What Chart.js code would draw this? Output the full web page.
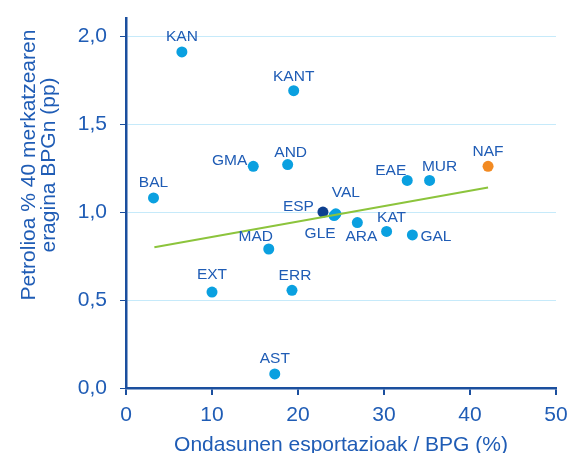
<!DOCTYPE html>
<html>
<head>
<meta charset="utf-8">
<script src="https://cdn.jsdelivr.net/npm/chart.js@4"></script>
<style>
    html, body { margin: 0; padding: 0; background: #ffffff; }
    #wrap { width: 568px; height: 453px; position: relative; }
</style>
</head>
<body>
<div id="wrap"><canvas id="oil-chart"></canvas></div>
<script>
const regionLabels = ['KAN', 'KANT', 'GMA', 'AND', 'BAL', 'EAE', 'MUR', 'NAF', 'ESP', 'VAL', 'GLE', 'ARA', 'KAT', 'GAL', 'MAD', 'EXT', 'ERR', 'AST'];
const exportsShare = [6.5, 19.5, 14.8, 18.8, 3.2, 32.7, 35.3, 42.1, 22.9, 24.4, 24.2, 26.9, 30.3, 33.3, 16.6, 10.0, 19.3, 17.3];
const oilImpact = [1.91, 1.69, 1.26, 1.27, 1.08, 1.18, 1.18, 1.26, 1.00, 0.99, 0.98, 0.94, 0.89, 0.87, 0.79, 0.545, 0.555, 0.08];
const trendX = [3.3, 42.1];
const trendY = [0.80, 1.14];
const xTicks = [0, 10, 20, 30, 40, 50];
const yTicks = [0, 0.5, 1.0, 1.5, 2.0];

const TEXT = '#1f5cb5';
const AXIS = '#1b4f9e';
const FONT = "'Liberation Sans', Arial, sans-serif";

// label placement around each dot: [dx, dy, align]
const labelPlacement = {
    KAN: [0, -15, 'center'], KANT: [0, -14, 'center'], GMA: [-6, -6, 'right'],
    AND: [3, -12, 'center'], BAL: [0, -15, 'center'], EAE: [-1, -10, 'right'],
    MUR: [10, -14, 'center'], NAF: [0, -15, 'center'], ESP: [-9, -5, 'right'],
    VAL: [10, -21, 'center'], GLE: [-14, 18, 'center'], ARA: [4, 14, 'center'],
    KAT: [5, -14, 'center'], GAL: [8, 2, 'left'], MAD: [-13, -12, 'center'],
    EXT: [0, -17, 'center'], ERR: [3, -15, 'center'], AST: [0, -15, 'center']
};

function dotColor(name) {
    if (name === 'ESP') return '#0d3f8f';
    if (name === 'NAF') return '#f28a22';
    return '#0aa0e0';
}

const pointLabelsPlugin = {
    id: 'pointLabels',
    afterDatasetsDraw(chart) {
        const ctx = chart.ctx;
        const meta = chart.getDatasetMeta(1);
        ctx.save();
        ctx.font = `15.5px ${FONT}`;
        ctx.fillStyle = TEXT;
        ctx.textBaseline = 'middle';
        meta.data.forEach((pt, i) => {
            const name = regionLabels[i];
            const [dx, dy, align] = labelPlacement[name];
            ctx.textAlign = align;
            ctx.fillText(name, pt.x + dx, pt.y + dy);
        });
        ctx.restore();
    }
};

const yTitlePlugin = {
    id: 'yTitle',
    afterDraw(chart) {
        const ctx = chart.ctx;
        ctx.save();
        ctx.font = `21px ${FONT}`;
        ctx.fillStyle = TEXT;
        ctx.textAlign = 'center';
        ctx.textBaseline = 'alphabetic';
        ctx.translate(35, 165);
        ctx.rotate(-Math.PI / 2);
        ctx.fillText('Petrolioa % 40 merkatzearen', 0, 0);
        ctx.fillText('eragina BPGn (pp)', 0, 20);
        ctx.restore();
    }
};

const ctx = document.getElementById('oil-chart').getContext('2d');
new Chart(ctx, {
    type: 'scatter',
    data: {
        datasets: [
            {
                type: 'line',
                data: trendX.map((x, i) => ({ x, y: trendY[i] })),
                borderColor: '#8cc43c',
                borderWidth: 2,
                pointRadius: 0,
                fill: false,
                order: 0
            },
            {
                data: exportsShare.map((x, i) => ({ x, y: oilImpact[i] })),
                backgroundColor: regionLabels.map(dotColor),
                borderWidth: 0,
                pointRadius: 5.5,
                order: 1
            }
        ]
    },
    options: {
        responsive: true,
        maintainAspectRatio: false,
        animation: false,
        layout: { padding: { left: 0, right: 12, top: 18.5, bottom: 0 } },
        plugins: { legend: { display: false }, tooltip: { enabled: false } },
        scales: {
            x: {
                type: 'linear',
                min: 0,
                max: 50,
                afterBuildTicks: scale => { scale.ticks = xTicks.map(value => ({ value })); },
                afterFit: scale => {
                    scale.height = 65;
                    scale.paddingLeft = 0;
                    scale.paddingRight = 0;
                },
                ticks: { color: TEXT, font: { family: FONT, size: 21 }, padding: 8, maxRotation: 0 },
                grid: { drawOnChartArea: false, drawTicks: true, tickLength: 7, tickColor: AXIS, lineWidth: 2 },
                border: { color: AXIS, width: 2.5 },
                title: {
                    display: true,
                    text: 'Ondasunen esportazioak / BPG (%)',
                    color: TEXT,
                    font: { family: FONT, size: 21, lineHeight: 0.7 },
                    padding: { top: 0, bottom: 0 }
                }
            },
            y: {
                type: 'linear',
                min: 0,
                max: 2.1,
                afterBuildTicks: scale => { scale.ticks = yTicks.map(value => ({ value })); },
                afterFit: scale => {
                    scale.width = 126;
                    scale.paddingTop = 0;
                    scale.paddingBottom = 0;
                },
                ticks: {
                    color: TEXT,
                    font: { family: FONT, size: 21 },
                    padding: 13,
                    callback: value => value.toFixed(1).replace('.', ',')
                },
                grid: { color: '#c6eafa', lineWidth: 1, tickLength: 6, tickColor: AXIS },
                border: { color: AXIS, width: 2.5 }
            }
        }
    },
    plugins: [pointLabelsPlugin, yTitlePlugin]
});
</script>
</body>
</html>
